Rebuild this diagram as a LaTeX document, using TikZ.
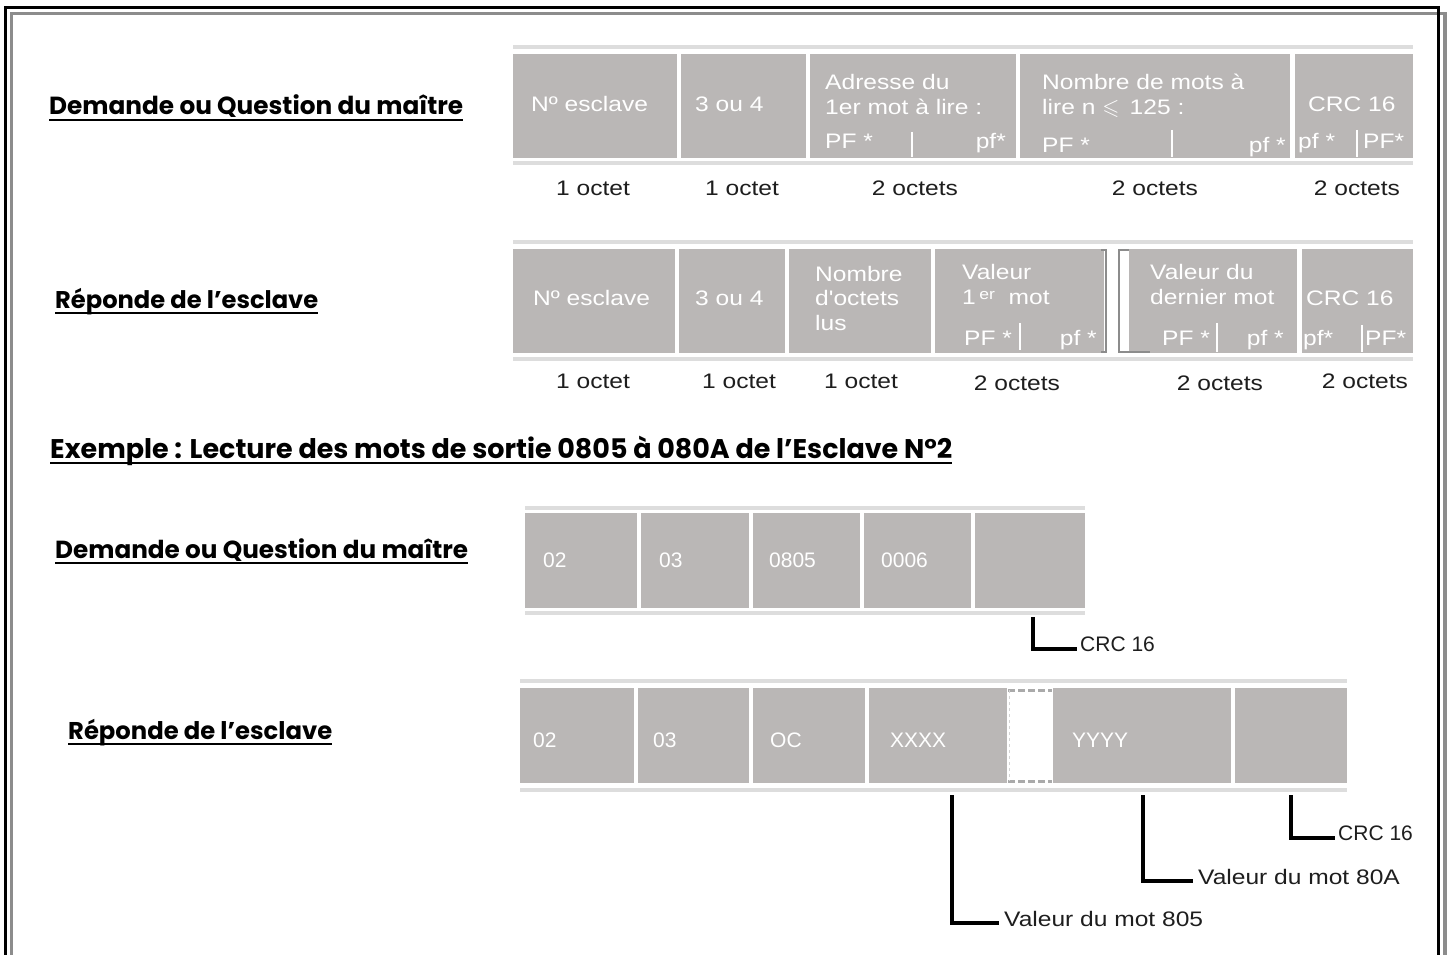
\documentclass[tikz,border=0pt]{standalone}
\usepackage{fontspec}
\usepackage{amssymb}
\usepackage{graphicx}
\setmainfont{Liberation Sans}
\newfontfamily\cf[FakeStretch=1.17]{Liberation Sans}
\newfontfamily\nf{Liberation Sans}
\newfontfamily\hf{Poppins}
\definecolor{cellgray}{HTML}{BAB7B6}
\definecolor{rulegray}{HTML}{DDDDDD}
\definecolor{shadow}{HTML}{8C8C8C}
\definecolor{dashgray}{HTML}{AAAAAA}
\definecolor{ink}{HTML}{1E1E1E}
\newcommand\mkcell[5]{\node[cellbox, anchor=north west, minimum width={(#4-#2)*1pt}, minimum height={(#5-#3)*1pt}] (#1) at (#2,#3) {};}
\begin{document}
\begin{tikzpicture}[x=1pt,y=-1pt,
  cellbox/.style={fill=cellgray, draw=none, inner sep=0pt, outer sep=0pt},
  rulebar/.style={draw=rulegray, line width=4pt},
  ct/.style={text=white, font=\cf\fontsize{21}{24}\selectfont, inner sep=0pt, anchor=base west},
  ctr/.style={ct, anchor=base east},
  et/.style={text=white, font=\nf\fontsize{21}{24}\selectfont, inner sep=0pt, anchor=base west},
  lt/.style={text=ink, font=\cf\fontsize{21}{24}\selectfont, inner sep=0pt, anchor=base},
  nt/.style={text=ink, font=\cf\fontsize{21}{24}\selectfont, inner sep=0pt, anchor=base west},
  ntn/.style={text=ink, font=\nf\fontsize{21}{24}\selectfont, inner sep=0pt, anchor=base west},
  hd/.style={text=black, font=\hf\bfseries\fontsize{22}{26}\selectfont, inner sep=0pt, anchor=base west},
  ul/.style={line width=2.8pt},
  leader/.style={draw=black, line width=3.2pt},
  divider/.style={draw=white, line width=2pt},
  gapdash/.style={draw=dashgray, line width=3pt, dash pattern=on 7pt off 3pt}
]
\useasboundingbox (0,0) rectangle (1450,955);
\fill[white] (0,0) rectangle (1450,955);
% frame
\draw[shadow, line width=3.5pt] (11.5,13.5) rectangle (1445,990);
\draw[black, line width=3pt] (5.5,7.5) rectangle (1438.5,985);

% headings
\node[hd] (h1) at (49,115) {\resizebox{414pt}{!}{Demande ou Question du maître}};
\draw[ul] ([yshift=-5pt]h1.base west) -- ([yshift=-5pt]h1.base east);
\node[hd] (h2) at (55,308) {\resizebox{263pt}{!}{Réponde de l’esclave}};
\draw[ul] ([yshift=-5pt]h2.base west) -- ([yshift=-5pt]h2.base east);
\node[hd] (h3) at (50,458) {\resizebox{902pt}{!}{Exemple : Lecture des mots de sortie 0805 à 080A de l’Esclave N°2}};
\draw[ul] ([yshift=-5pt]h3.base west) -- ([yshift=-5pt]h3.base east);
\node[hd] (h4) at (55,558) {\resizebox{413pt}{!}{Demande ou Question du maître}};
\draw[ul] ([yshift=-5pt]h4.base west) -- ([yshift=-5pt]h4.base east);
\node[hd] (h5) at (68,739) {\resizebox{264pt}{!}{Réponde de l’esclave}};
\draw[ul] ([yshift=-5pt]h5.base west) -- ([yshift=-5pt]h5.base east);

% ---------- table 1 ----------
\draw[rulebar] (513,47) -- (1413,47);
\draw[rulebar] (513,163) -- (1413,163);
\mkcell{a1}{513}{54}{677}{158}
\mkcell{a2}{681}{54}{806}{158}
\mkcell{a3}{810}{54}{1016}{158}
\mkcell{a4}{1020}{54}{1290}{158}
\mkcell{a5}{1295}{54}{1413}{158}
\node[ct] (a1t) at (531,112) {Nº esclave};
\node[ct] (a2t) at (695,112) {3 ou 4};
\node[ct] (a3t1) at (825,90) {Adresse du};
\node[ct] (a3t2) at (825,114) {1er mot à lire :};
\node[ct] (a3t3) at (825,149) {PF *};
\node[ctr] (a3t4) at (1006,149) {pf*};
\draw[divider] (912,132) -- (912,157);
\node[ct] (a4t1) at (1042,90) {Nombre de mots à};
\node[ct] (a4t2) at (1042,114) {lire n {\fontsize{22}{24}\selectfont$\leqslant$}\, 125 :};
\node[ct] (a4t3) at (1042,152) {PF *};
\node[ctr] (a4t4) at (1286,152) {pf *};
\draw[divider] (1172,130) -- (1172,157);
\node[ct] (a5t1) at (1308,112) {CRC 16};
\node[ct] (a5t2) at (1298,149) {pf *};
\draw[divider] (1357,130) -- (1357,157);
\node[ct] (a5t3) at (1363,149) {PF*};
\node[lt] (a1l) at (593,195) {1 octet};
\node[lt] (a2l) at (742,195) {1 octet};
\node[lt] (a3l) at (915,195) {2 octets};
\node[lt] (a4l) at (1155,195) {2 octets};
\node[lt] (a5l) at (1357,195) {2 octets};

% ---------- table 2 ----------
\draw[rulebar] (513,242) -- (1413,242);
\draw[rulebar] (513,359) -- (1413,359);
\mkcell{b1}{513}{249}{675}{353}
\mkcell{b2}{679}{249}{785}{353}
\mkcell{b3}{789}{249}{931}{353}
\mkcell{b4}{935}{249}{1104}{353}
\mkcell{b5}{1129}{249}{1297}{353}
\mkcell{b6}{1302}{249}{1413}{353}
\fill[white] (1107,249) rectangle (1118,353);
\draw[shadow, line width=1.5pt] (1101,250) -- (1106,250) -- (1106,352) -- (1101,352);
\draw[shadow, line width=1.5pt] (1129,250) -- (1119,250) -- (1119,352) -- (1150,352);
\node[ct] (b1t) at (533,305) {Nº esclave};
\node[ct] (b2t) at (695,305) {3 ou 4};
\node[ct] (b3t1) at (815,281) {Nombre};
\node[ct] (b3t2) at (815,305) {d'octets};
\node[ct] (b3t3) at (815,330) {lus};
\node[ct] (b4t1) at (962,279) {Valeur};
\node[ct] (b4t2) at (962,304) {1\,\raisebox{5pt}{\fontsize{15}{15}\selectfont er}\ \ mot};
\node[ct] (b4t3) at (964,345) {PF *};
\draw[divider] (1020,323) -- (1020,350);
\node[ctr] (b4t4) at (1097,345) {pf *};
\node[ct] (b5t1) at (1150,279) {Valeur du};
\node[ct] (b5t2) at (1150,304) {dernier mot};
\node[ct] (b5t3) at (1162,345) {PF *};
\draw[divider] (1217,323) -- (1217,352);
\node[ctr] (b5t4) at (1284,345) {pf *};
\node[ct] (b6t1) at (1306,305) {CRC 16};
\node[ct] (b6t2) at (1303,345) {pf*};
\draw[divider] (1362,325) -- (1362,352);
\node[ct] (b6t3) at (1365,345) {PF*};
\node[lt] (b1l) at (593,388) {1 octet};
\node[lt] (b2l) at (739,388) {1 octet};
\node[lt] (b3l) at (861,388) {1 octet};
\node[lt] (b4l) at (1017,390) {2 octets};
\node[lt] (b5l) at (1220,390) {2 octets};
\node[lt] (b6l) at (1365,388) {2 octets};

% ---------- table 3 ----------
\draw[rulebar, line width=3.5pt] (525,508) -- (1085,508);
\draw[rulebar, line width=3.5pt] (525,613) -- (1085,613);
\mkcell{c1}{525}{513}{637}{608}
\mkcell{c2}{641}{513}{749}{608}
\mkcell{c3}{753}{513}{860}{608}
\mkcell{c4}{864}{513}{971}{608}
\mkcell{c5}{975}{513}{1085}{608}
\node[et] (c1t) at (543,567) {02};
\node[et] (c2t) at (659,567) {03};
\node[et] (c3t) at (769,567) {0805};
\node[et] (c4t) at (881,567) {0006};
\coordinate (lc) at (1033,617);
\node[ntn] (crc1) at (1080,651) {CRC 16};
\draw[leader] (lc) |- ([xshift=-3pt,yshift=2pt]crc1.base west);

% ---------- table 4 ----------
\draw[rulebar, line width=3.5pt] (520,681) -- (1347,681);
\draw[rulebar, line width=3.5pt] (520,790) -- (1347,790);
\mkcell{d1}{520}{688}{634}{783}
\mkcell{d2}{638}{688}{749}{783}
\mkcell{d3}{753}{688}{865}{783}
\mkcell{d4}{869}{688}{1007}{783}
\mkcell{d5}{1053}{688}{1231}{783}
\mkcell{d6}{1235}{688}{1347}{783}
\draw[gapdash] (1008,690) -- (1052,690);
\draw[gapdash] (1008,781) -- (1052,781);
\draw[dashgray!50, line width=1pt, dash pattern=on 3pt off 3pt] (1009,690) -- (1009,781);
\node[et] (d1t) at (533,747) {02};
\node[et] (d2t) at (653,747) {03};
\node[et] (d3t) at (770,747) {OC};
\node[et] (d4t) at (890,747) {XXXX};
\node[et] (d5t) at (1072,747) {YYYY};
\coordinate (ld1) at (952,795);
\coordinate (ld2) at (1143,795);
\coordinate (ld3) at (1291,795);
\node[nt] (v805) at (1004,926) {Valeur du mot 805};
\node[nt] (v80a) at (1198,884) {Valeur du mot 80A};
\node[ntn] (crc2) at (1338,840) {CRC 16};
\draw[leader] (ld1) |- ([xshift=-5pt,yshift=3pt]v805.base west);
\draw[leader] (ld2) |- ([xshift=-5pt,yshift=3pt]v80a.base west);
\draw[leader] (ld3) |- ([xshift=-3pt,yshift=2pt]crc2.base west);
\end{tikzpicture}
\end{document}
